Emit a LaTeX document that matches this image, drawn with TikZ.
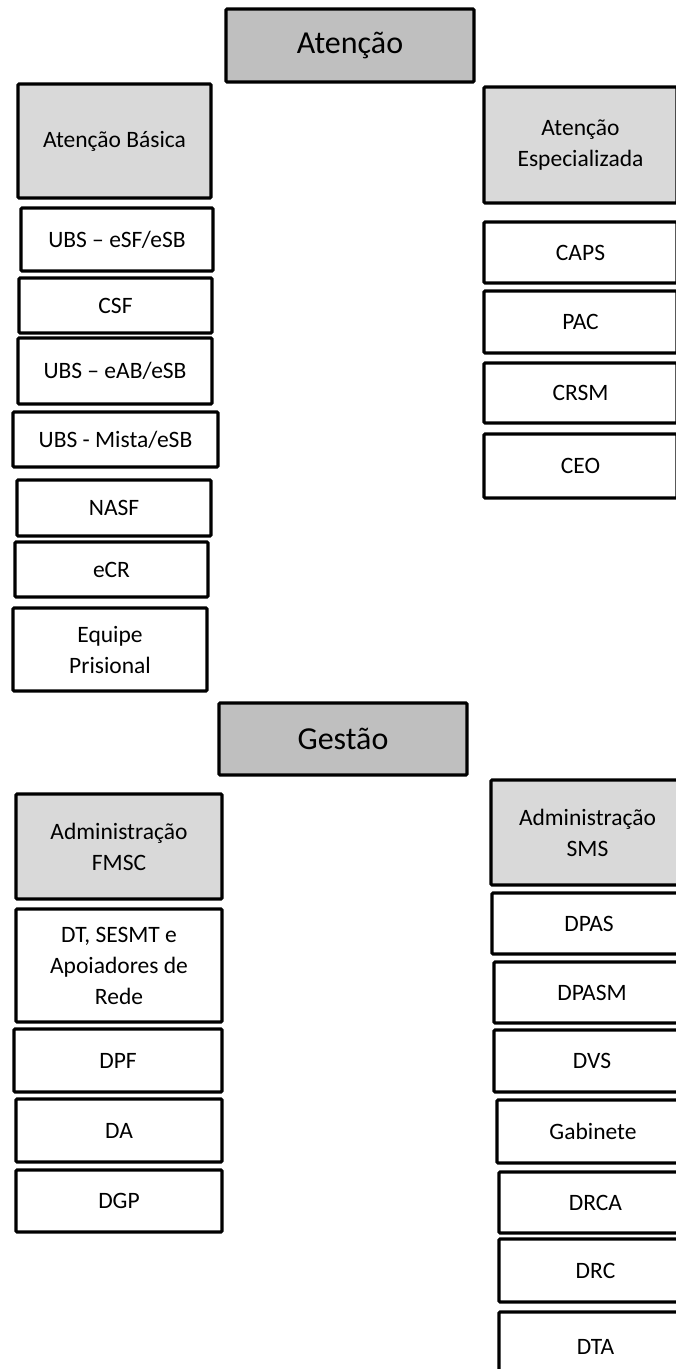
\documentclass[tikz,border=0pt]{standalone}
\usepackage{fontspec}
\setmainfont{Carlito}
\tikzset{
  base/.style={draw=black, line width=3.1pt, rounded corners=1pt, align=center, inner sep=2pt,
    font=\fontsize{23.5}{31}\selectfont, text=black},
  plainbox/.style={base, fill=white},
  subhead/.style={base, fill=gray!30},
  mainhead/.style={base, fill=gray!50, font=\fontsize{32}{38}\selectfont},
}
\newcommand{\bx}[7]{% style, name, left, top, right, bottom, text
  \node[#1, minimum width={(#5)-(#3)}, minimum height={(#6)-(#4)}] (#2) at ({((#3)+(#5))/2},{((#4)+(#6))/2}) {#7};}
\begin{document}
\begin{tikzpicture}[x=1pt,y=-1pt]
\clip (0,0) rectangle (676,1369);
\fill[white] (0,0) rectangle (676,1369);
% Atenção
\bx{mainhead}{aten}{226}{9}{474}{82}{Atenção}
\bx{subhead}{basica}{18}{84}{211}{198}{Atenção Básica}
\bx{plainbox}{ubsa}{21}{208}{213}{271}{UBS – eSF/eSB}
\bx{plainbox}{csf}{19}{278}{212}{333}{CSF}
\bx{plainbox}{ubsb}{18}{338}{212}{404}{UBS – eAB/eSB}
\bx{plainbox}{mista}{13}{412}{218}{467}{UBS - Mista/eSB}
\bx{plainbox}{nasf}{17}{480}{211}{536}{NASF}
\bx{plainbox}{ecr}{15}{542}{208}{597}{eCR}
\bx{plainbox}{prisional}{13}{608}{207}{691}{Equipe\\Prisional}
\bx{subhead}{espec}{484}{87}{677}{203}{Atenção\\Especializada}
\bx{plainbox}{caps}{484}{222}{677}{283}{CAPS}
\bx{plainbox}{pac}{484}{291}{677}{353}{PAC}
\bx{plainbox}{crsm}{484}{363}{677}{423}{CRSM}
\bx{plainbox}{ceo}{484}{434}{677}{498}{CEO}
% Gestão
\bx{mainhead}{gestao}{219}{703}{467}{775}{Gestão}
\bx{subhead}{fmsc}{16}{794}{222}{899}{Administração\\FMSC}
\bx{plainbox}{dt}{16}{909}{222}{1022}{DT, SESMT e\\Apoiadores de\\Rede}
\bx{plainbox}{dpf}{14}{1029}{222}{1092}{DPF}
\bx{plainbox}{da}{16}{1099}{222}{1162}{DA}
\bx{plainbox}{dgp}{16}{1170}{222}{1232}{DGP}
\bx{subhead}{sms}{491}{780}{684}{885}{Administração\\SMS}
\bx{plainbox}{dpas}{492}{893}{686}{954}{DPAS}
\bx{plainbox}{dpasm}{494}{962}{690}{1023}{DPASM}
\bx{plainbox}{dvs}{494}{1030}{690}{1092}{DVS}
\bx{plainbox}{gab}{497}{1100}{689}{1163}{Gabinete}
\bx{plainbox}{drca}{499}{1172}{692}{1233}{DRCA}
\bx{plainbox}{drc}{499}{1239}{692}{1302}{DRC}
\bx{plainbox}{dta}{499}{1312}{692}{1382}{DTA}
\end{tikzpicture}
\end{document}
